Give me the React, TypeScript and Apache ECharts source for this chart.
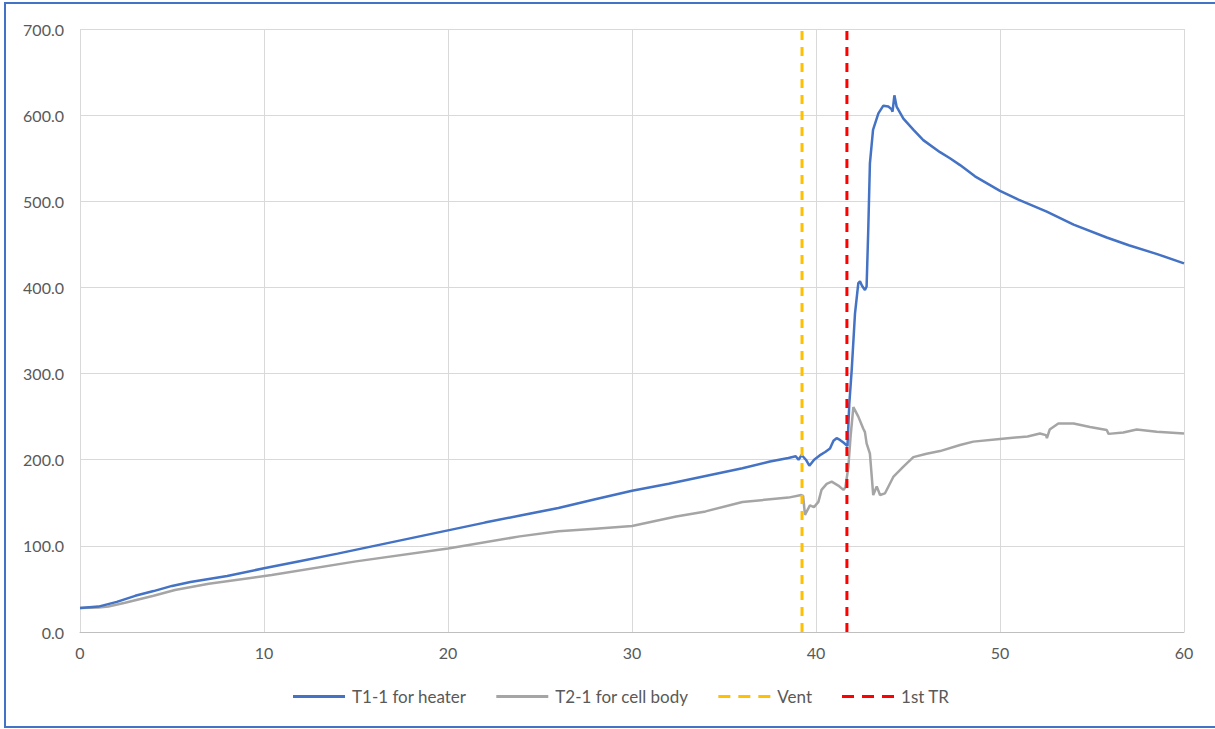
import React, { useEffect, useRef } from "react";
import * as echarts from "echarts";

const t1Time = [0, 1, 2, 3, 4, 5, 6, 8, 10, 12, 14, 16, 18, 20, 22, 24, 26, 28, 30, 32, 34, 36, 37.5, 38.5, 38.9, 39.05, 39.22, 39.45, 39.64, 39.9, 40.2, 40.5, 40.76, 40.95, 41.12, 41.3, 41.49, 41.71, 41.81, 41.94, 42.12, 42.3, 42.39, 42.5, 42.66, 42.75, 42.84, 42.93, 43.1, 43.39, 43.66, 43.93, 44.1, 44.16, 44.26, 44.38, 44.75, 45.3, 45.83, 46.74, 47.28, 47.83, 48.64, 50, 51, 52.54, 54, 55.8, 57, 58.5, 60];
const t1Temp = [28, 29.5, 35, 42, 47.5, 53.5, 58, 65, 74, 82.5, 91, 100, 109, 118, 127, 135.5, 144, 154, 164, 172, 181, 190, 198, 202, 204, 200, 205.5, 200, 193, 200, 205, 209, 213, 222, 225, 223, 220, 216, 265, 304, 370, 405, 407, 402, 397, 401, 467, 544, 583, 602, 611, 610, 607, 604, 623, 610, 596, 583, 571, 557, 550, 542, 529, 512, 502, 488, 473, 458, 449, 439, 428];

const t2Time = [0, 1, 1.54, 2.45, 4, 5.16, 7, 10.42, 15, 20, 23.9, 26, 28, 30, 32.4, 34, 36, 37.5, 38.5, 39.2, 39.3, 39.4, 39.67, 39.89, 40.13, 40.3, 40.58, 40.85, 41.21, 41.49, 41.6, 41.76, 41.88, 42.03, 42.3, 42.57, 42.66, 42.75, 42.93, 43.11, 43.3, 43.48, 43.75, 44.2, 44.75, 45.29, 46.01, 46.74, 47.83, 48.55, 50, 51.5, 52.17, 52.5, 52.55, 52.7, 53.17, 54, 54.89, 55.8, 55.9, 56.7, 57.43, 58.52, 60];
const t2Temp = [28, 28.5, 29.5, 34, 42, 48.8, 56, 66.2, 82, 97, 111, 117, 120, 123, 134, 140, 151, 154, 156, 159, 158, 136, 147, 145, 151, 165, 172, 174.5, 170, 165, 168, 192, 227, 261, 250, 236, 232, 219, 207, 159, 169, 159, 161, 180, 192, 203, 207, 210, 217, 221, 224, 227, 230.5, 228.5, 225, 235, 242, 242, 238, 234.5, 230, 231.5, 235, 232.5, 230.5];

const ventTime = 39.24;
const trTime = 41.68;
const markerRange = [0, 700];

const seriesNames = ["T1-1 for heater", "T2-1 for cell body", "Vent", "1st TR"];
const xTicks = { min: 0, max: 60, interval: 10 };
const yTicks = { min: 0, max: 700, interval: 100 };

const zip = (xs: number[], ys: number[]) => xs.map((x, i) => [x, ys[i]]);

const solidIcon = "path://M0,0h52v3H0z";
const dashIcon = "path://M0,0h12v3H0zM20,0h12v3H20zM40,0h12v3H40z";

export default function App() {
  const ref = useRef<HTMLDivElement>(null);
  useEffect(() => {
    if (!ref.current) return;
    const chart = echarts.init(ref.current, undefined, { renderer: "svg" });
    const font = "Lato, 'Noto Sans', sans-serif";
    chart.setOption({
      animation: false,
      backgroundColor: "#ffffff",
      textStyle: { fontFamily: font },
      grid: { left: 80, right: 31, top: 29, bottom: 97, containLabel: false },
      graphic: [
        {
          type: "rect",
          shape: { x: 5, y: 3, width: 1212, height: 724 },
          style: { fill: "none", stroke: "#4472C4", lineWidth: 2 },
          silent: true,
        },
      ],
      legend: {
        bottom: 19,
        left: 288,
        itemWidth: 52,
        itemHeight: 3,
        itemGap: 30,
        symbolKeepAspect: false,
        textStyle: { color: "#595959", fontSize: 17, fontFamily: font, padding: [0, 0, 0, 2] },
        data: [
          { name: seriesNames[0], icon: solidIcon },
          { name: seriesNames[1], icon: solidIcon },
          { name: seriesNames[2], icon: dashIcon },
          { name: seriesNames[3], icon: dashIcon },
        ],
      },
      xAxis: {
        type: "value",
        min: xTicks.min,
        max: xTicks.max,
        interval: xTicks.interval,
        axisLine: { show: true, lineStyle: { color: "#BFBFBF", width: 1 } },
        axisTick: { show: false },
        splitLine: { show: true, lineStyle: { color: "#D9D9D9", width: 1 } },
        axisLabel: { color: "#595959", fontSize: 16, margin: 12 },
      },
      yAxis: {
        type: "value",
        min: yTicks.min,
        max: yTicks.max,
        interval: yTicks.interval,
        axisLine: { show: false },
        axisTick: { show: false },
        splitLine: { show: true, lineStyle: { color: "#D9D9D9", width: 1 } },
        axisLabel: {
          color: "#595959",
          fontSize: 16,
          margin: 16,
          formatter: (v: number) => v.toFixed(1),
        },
      },
      series: [
        {
          name: seriesNames[0],
          type: "line",
          data: zip(t1Time, t1Temp),
          showSymbol: false,
          symbol: "none",
          lineStyle: { color: "#4472C4", width: 2.5 },
          itemStyle: { color: "#4472C4" },
          z: 4,
        },
        {
          name: seriesNames[1],
          type: "line",
          data: zip(t2Time, t2Temp),
          showSymbol: false,
          symbol: "none",
          lineStyle: { color: "#A5A5A5", width: 2.5 },
          itemStyle: { color: "#A5A5A5" },
          z: 3,
        },
        {
          name: seriesNames[2],
          type: "line",
          data: markerRange.map((y) => [ventTime, y]),
          showSymbol: false,
          symbol: "none",
          lineStyle: { color: "#FFC000", width: 3, type: [9, 7] },
          itemStyle: { color: "#FFC000" },
          z: 5,
        },
        {
          name: seriesNames[3],
          type: "line",
          data: markerRange.map((y) => [trTime, y]),
          showSymbol: false,
          symbol: "none",
          lineStyle: { color: "#FF0000", width: 3, type: [9, 7] },
          itemStyle: { color: "#FF0000" },
          z: 5,
        },
      ],
    });
    return () => chart.dispose();
  }, []);
  return (
    <div
      ref={ref}
      style={{ position: "fixed", left: 0, top: 0, width: 1215, height: 729, background: "#fff" }}
    />
  );
}
